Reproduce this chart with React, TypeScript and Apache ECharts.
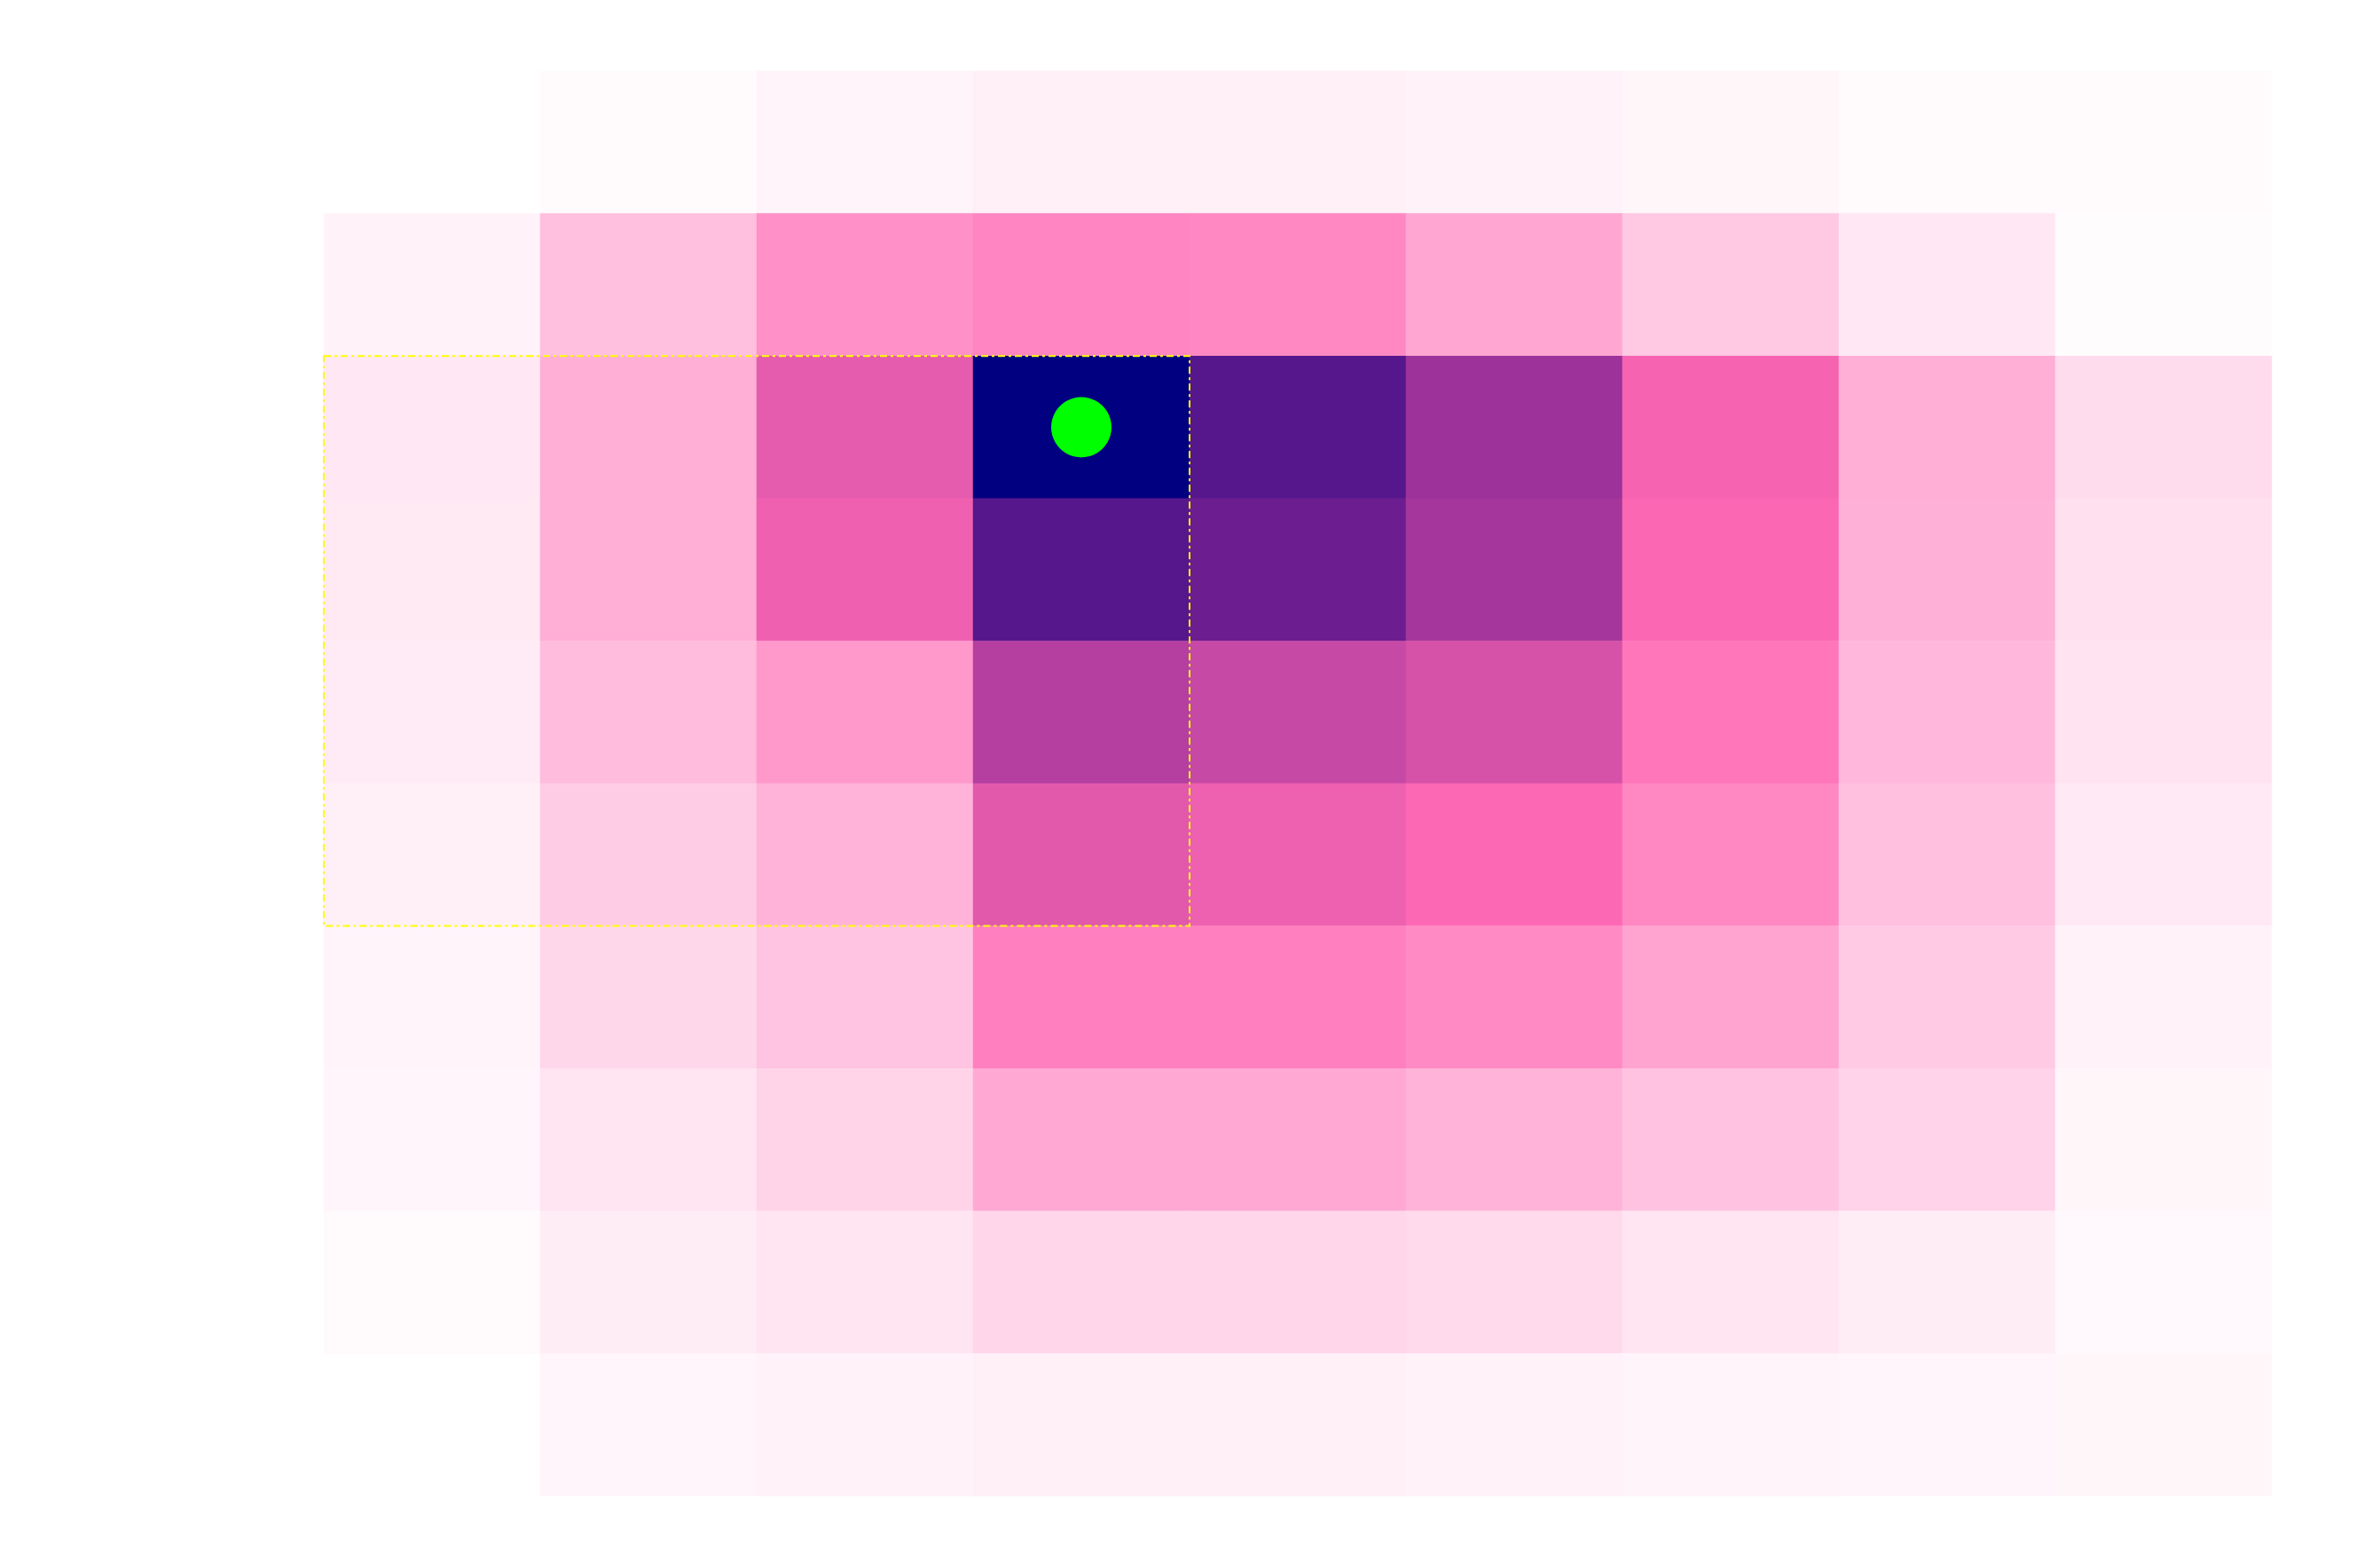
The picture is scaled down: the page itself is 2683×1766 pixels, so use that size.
import React, { useEffect, useRef } from "react";
import * as echarts from "echarts";

const columns = ["C1", "C2", "C3", "C4", "C5", "C6", "C7", "C8", "C9"];
const rows = ["R1", "R2", "R3", "R4", "R5", "R6", "R7", "R8", "R9", "R10"];

const row1 = [null, 0.015, 0.037, 0.05, 0.05, 0.043, 0.03, 0.017, 0.013];
const row2 = [0.04, 0.21, 0.367, 0.407, 0.397, 0.297, 0.183, 0.077, 0.01];
const row3 = [0.077, 0.27, 0.55, 1.0, 0.83, 0.692, 0.52, 0.27, 0.117];
const row4 = [0.07, 0.27, 0.53, 0.83, 0.788, 0.675, 0.506, 0.263, 0.103];
const row5 = [0.067, 0.223, 0.34, 0.647, 0.612, 0.58, 0.457, 0.237, 0.093];
const row6 = [0.05, 0.17, 0.253, 0.557, 0.533, 0.505, 0.397, 0.21, 0.073];
const row7 = [0.037, 0.133, 0.197, 0.427, 0.427, 0.39, 0.307, 0.177, 0.04];
const row8 = [0.033, 0.09, 0.143, 0.29, 0.29, 0.253, 0.2, 0.147, 0.03];
const row9 = [0.017, 0.06, 0.09, 0.137, 0.137, 0.123, 0.09, 0.06, 0.023];
const row10 = [null, 0.033, 0.04, 0.05, 0.05, 0.043, 0.037, 0.033, 0.03];

const gridRows = [row1, row2, row3, row4, row5, row6, row7, row8, row9, row10];

// highlighted point: [column index, row index]
const highlightPoint = [3, 2];
// dashed region: [col start, row start, col end, row end]
const highlightRegion = [0, 2, 3, 5];

// colour ramp, evenly spaced from min to max
const colorRamp = ["#ffffff", "#ffb4d9", "#ff69b4", "#7f2292", "#000080"];

export default function App() {
  const ref = useRef<HTMLDivElement>(null);

  useEffect(() => {
    document.body.style.margin = "0";
    if (!ref.current) return;
    const chart = echarts.init(ref.current, null, { renderer: "svg" });

    const data: any[] = [];
    gridRows.forEach((r, i) => {
      r.forEach((v, j) => {
        if (v !== null) data.push([j, i, v]);
      });
    });

    chart.setOption({
      animation: false,
      backgroundColor: "#ffffff",
      grid: { left: 365, right: 122, top: 80, bottom: 80 },
      xAxis: {
        type: "category",
        data: columns,
        show: false,
      },
      yAxis: {
        type: "category",
        data: rows,
        inverse: true,
        show: false,
      },
      visualMap: {
        show: false,
        min: 0,
        max: 1,
        seriesIndex: 0,
        inRange: { color: colorRamp },
      },
      series: [
        {
          type: "heatmap",
          data,
          itemStyle: { borderWidth: 0 },
          emphasis: { disabled: true },
        },
        {
          type: "custom",
          data: [highlightRegion],
          z: 5,
          renderItem: (params: any, api: any) => {
            const p0 = api.coord([api.value(0), api.value(1)]);
            const p1 = api.coord([api.value(2), api.value(3)]);
            const size = api.size([1, 1]);
            const x0 = Math.min(p0[0], p1[0]) - size[0] / 2;
            const x1 = Math.max(p0[0], p1[0]) + size[0] / 2;
            const y0 = Math.min(p0[1], p1[1]) - size[1] / 2;
            const y1 = Math.max(p0[1], p1[1]) + size[1] / 2;
            return {
              type: "rect",
              shape: { x: x0, y: y0, width: x1 - x0, height: y1 - y0 },
              style: {
                fill: "none",
                stroke: "#ffff00",
                lineWidth: 2,
                lineDash: [8, 4, 3, 4],
              },
            };
          },
        },
        {
          type: "scatter",
          data: [highlightPoint],
          symbol: "circle",
          symbolSize: 68,
          z: 6,
          itemStyle: { color: "#00ff00", opacity: 1 },
        },
      ],
    });

    return () => chart.dispose();
  }, []);

  return <div ref={ref} style={{ width: 2683, height: 1766 }} />;
}
